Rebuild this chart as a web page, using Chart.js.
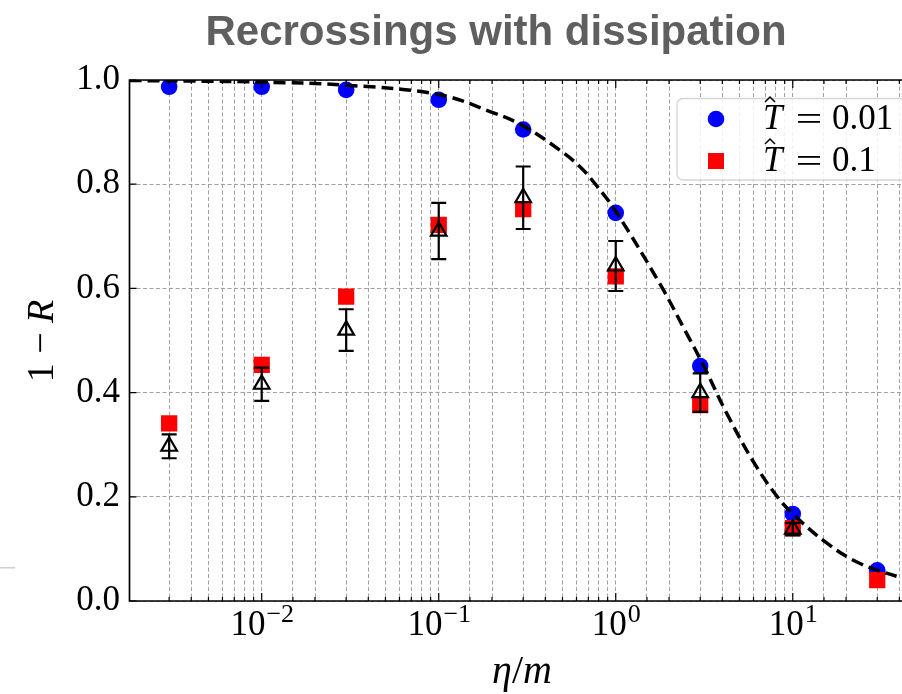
<!DOCTYPE html>
<html>
<head>
<meta charset="utf-8">
<script src="https://cdn.jsdelivr.net/npm/chart.js@4.4.1/dist/chart.umd.min.js"></script>
<style>
  html, body { margin: 0; padding: 0; background: #fff; overflow: hidden; }
  #wrap { position: relative; width: 902px; height: 694px; }
</style>
</head>
<body>
<div id="wrap"><canvas id="chart" width="902" height="694"></canvas></div>
<script>
// eta/m sample points (log axis)
const etaOverM = [0.003, 0.01, 0.03, 0.1, 0.3, 1, 3, 10, 30];
// 1 - R, T = 0.01 (blue circles)
const recrossT001 = [0.987, 0.987, 0.981, 0.962, 0.905, 0.745, 0.451, 0.167, 0.059];
// 1 - R, T = 0.1 (red squares)
const recrossT01 = [0.341, 0.453, 0.584, 0.722, 0.752, 0.623, 0.376, 0.140, 0.040];
// black triangles with error bars
const recrossMean = [0.297, 0.416, 0.520, 0.710, 0.774, 0.643, 0.400, 0.138, null];
const recrossErr = [0.023, 0.032, 0.040, 0.054, 0.060, 0.048, 0.037, 0.012, null];
// dashed reference curve
const curveEta = [0.001791, 0.004, 0.01, 0.03, 0.1, 0.2, 0.3, 0.48, 0.63, 0.78, 1.0, 1.78, 2.5, 3.13, 4.24, 6.0, 8.1, 10.1, 15.6, 24, 41.4];
const curveVal = [0.999, 0.998, 0.996, 0.990, 0.972, 0.938, 0.912, 0.866, 0.833, 0.797, 0.748, 0.608, 0.515, 0.452, 0.360, 0.267, 0.202, 0.166, 0.111, 0.072, 0.044];

const xDecades = [-2, -1, 0, 1];
const legendLabels = ["0.01", "0.1"];
const titleText = "Recrossings with dissipation";

const X_MIN = 0.001791;
const X_MAX = 41.4;
const SERIF = '"Liberation Serif", "DejaVu Serif", serif';

const toPoints = (xs, ys) =>
  xs.map((x, i) => ({ x, y: ys[i] })).filter((p) => p.y !== null);

const isDecade = (v) => Math.abs(Math.log10(v) - Math.round(Math.log10(v))) < 1e-9;

// title, axis titles, superscript tick labels
const textPlugin = {
  id: "texts",
  afterDraw(chart) {
    const { ctx, scales: { x } } = chart;
    ctx.save();
    ctx.fillStyle = "#5f5f5f";
    ctx.font = 'bold 42px "Liberation Sans", Arial, sans-serif';
    ctx.textAlign = "center";
    ctx.textBaseline = "alphabetic";
    ctx.fillText(titleText, 496, 45);

    ctx.fillStyle = "#000";
    xDecades.forEach((exp) => {
      const px = x.getPixelForValue(Math.pow(10, exp));
      const base = "10";
      const sup = exp < 0 ? "\u2212" + Math.abs(exp) : String(exp);
      ctx.font = "35px " + SERIF;
      const wb = ctx.measureText(base).width;
      ctx.font = "26px " + SERIF;
      const ws = ctx.measureText(sup).width;
      const left = px - (wb + ws) / 2;
      ctx.textAlign = "left";
      ctx.font = "35px " + SERIF;
      ctx.fillText(base, left, 635);
      ctx.font = "26px " + SERIF;
      ctx.fillText(sup, left + wb + 1, 622);
    });

    // x title: eta/m
    ctx.font = "italic 40px " + SERIF;
    const wEta = ctx.measureText("\u03b7").width;
    const wM = ctx.measureText("m").width;
    ctx.font = "40px " + SERIF;
    const wSl = ctx.measureText("/").width;
    let cx = 522 - (wEta + wSl + wM) / 2;
    ctx.font = "italic 40px " + SERIF;
    ctx.fillText("\u03b7", cx, 683);
    cx += wEta;
    ctx.font = "40px " + SERIF;
    ctx.fillText("/", cx, 683);
    cx += wSl;
    ctx.font = "italic 40px " + SERIF;
    ctx.fillText("m", cx, 683);

    // y title: 1 - R
    ctx.translate(53, 341);
    ctx.rotate(-Math.PI / 2);
    ctx.font = "38px " + SERIF;
    const pre = "1 \u2212 ";
    const wPre = ctx.measureText(pre).width;
    ctx.font = "italic 38px " + SERIF;
    const wR = ctx.measureText("R").width;
    const sx = -(wPre + wR) / 2;
    ctx.font = "38px " + SERIF;
    ctx.fillText(pre, sx, 0);
    ctx.font = "italic 38px " + SERIF;
    ctx.fillText("R", sx + wPre, 0);
    ctx.restore();
  },
};

// spines and inward tick marks
const framePlugin = {
  id: "frame",
  afterDatasetsDraw(chart) {
    const { ctx, chartArea: a, scales: { x, y } } = chart;
    ctx.save();
    ctx.strokeStyle = "#000";
    ctx.lineWidth = 1.7;
    ctx.beginPath();
    ctx.moveTo(a.right + 4, a.top);
    ctx.lineTo(a.left, a.top);
    ctx.lineTo(a.left, a.bottom);
    ctx.lineTo(a.right + 4, a.bottom);
    ctx.stroke();

    ctx.lineWidth = 1.2;
    ctx.beginPath();
    x.ticks.forEach((t) => {
      if (t.value <= X_MIN || t.value >= X_MAX) return;
      const px = x.getPixelForValue(t.value);
      const len = isDecade(t.value) ? 8 : 4;
      ctx.moveTo(px, a.bottom);
      ctx.lineTo(px, a.bottom - len);
      ctx.moveTo(px, a.top);
      ctx.lineTo(px, a.top + len);
    });
    y.ticks.forEach((t) => {
      const py = y.getPixelForValue(t.value);
      ctx.moveTo(a.left, py);
      ctx.lineTo(a.left + 7, py);
    });
    ctx.stroke();
    ctx.restore();
  },
};

const errorBarPlugin = {
  id: "errorBars",
  afterDatasetsDraw(chart) {
    const { ctx, scales: { x, y } } = chart;
    ctx.save();
    ctx.strokeStyle = "#000";
    ctx.lineWidth = 2.2;
    etaOverM.forEach((eta, i) => {
      if (recrossMean[i] === null) return;
      const px = x.getPixelForValue(eta);
      const top = y.getPixelForValue(recrossMean[i] + recrossErr[i]);
      const bot = y.getPixelForValue(recrossMean[i] - recrossErr[i]);
      ctx.beginPath();
      ctx.moveTo(px, top);
      ctx.lineTo(px, bot);
      ctx.moveTo(px - 7.5, top);
      ctx.lineTo(px + 7.5, top);
      ctx.moveTo(px - 7.5, bot);
      ctx.lineTo(px + 7.5, bot);
      ctx.stroke();
    });
    ctx.restore();
  },
};

const drawHatT = (ctx, x, base) => {
  ctx.font = "italic 35px " + SERIF;
  ctx.fillText("T", x, base);
  ctx.beginPath();
  ctx.moveTo(x + 2, base - 27);
  ctx.lineTo(x + 7, base - 32);
  ctx.lineTo(x + 12, base - 27);
  ctx.lineWidth = 1.5;
  ctx.stroke();
};

const legendPlugin = {
  id: "boxLegend",
  afterDraw(chart) {
    const { ctx } = chart;
    const ds = chart.data.datasets;
    ctx.save();
    ctx.beginPath();
    ctx.roundRect(677, 98.5, 240, 81.5, 6);
    ctx.fillStyle = "rgba(255,255,255,0.85)";
    ctx.fill();
    ctx.strokeStyle = "#d6d6d6";
    ctx.lineWidth = 1.3;
    ctx.stroke();

    const rows = [
      { y: 119, base: 129, style: "circle", ds: ds[1] },
      { y: 161, base: 171, style: "rect", ds: ds[2] },
    ];
    rows.forEach((row, i) => {
      ctx.fillStyle = row.ds.backgroundColor;
      if (row.style === "circle") {
        ctx.beginPath();
        ctx.arc(716, row.y, 8.3, 0, Math.PI * 2);
        ctx.fill();
      } else {
        ctx.fillRect(716 - 8, row.y - 8, 16, 16);
      }
      ctx.fillStyle = "#000";
      ctx.strokeStyle = "#000";
      ctx.textAlign = "left";
      ctx.textBaseline = "alphabetic";
      drawHatT(ctx, 763, row.base);
      // long equals sign, as in TeX
      ctx.fillRect(798, row.base - 15, 22, 1.8);
      ctx.fillRect(798, row.base - 8, 22, 1.8);
      ctx.font = "35px " + SERIF;
      ctx.fillText(legendLabels[i], 832, row.base);
    });
    // small grey mark at the left edge of the source image
    ctx.fillStyle = "#cfcfcf";
    ctx.fillRect(0, 567, 15, 1.5);
    ctx.restore();
  },
};

new Chart(document.getElementById("chart"), {
  type: "scatter",
  data: {
    datasets: [
      {
        label: "curve",
        type: "line",
        data: toPoints(curveEta, curveVal),
        borderColor: "#000",
        borderWidth: 3.5,
        borderDash: [12, 6],
        pointRadius: 0,
        fill: false,
        tension: 0.4,
        order: 1,
      },
      {
        label: "T = 0.01",
        data: toPoints(etaOverM, recrossT001),
        backgroundColor: "#0000ff",
        borderWidth: 0,
        pointStyle: "circle",
        pointRadius: 8.3,
        order: 3,
      },
      {
        label: "T = 0.1",
        data: toPoints(etaOverM, recrossT01),
        backgroundColor: "#ff0000",
        borderWidth: 0,
        pointStyle: "rect",
        pointRadius: 11.5,
        order: 2,
      },
      {
        label: "mean",
        data: toPoints(etaOverM, recrossMean),
        backgroundColor: "rgba(0,0,0,0)",
        borderColor: "#000",
        borderWidth: 2.2,
        pointStyle: "triangle",
        pointRadius: 9,
        order: 0,
      },
    ],
  },
  options: {
    responsive: false,
    animation: false,
    events: [],
    layout: { autoPadding: false, padding: { top: 80, left: 0, right: 0, bottom: 0 } },
    plugins: { legend: { display: false }, title: { display: false }, tooltip: { enabled: false } },
    scales: {
      x: {
        type: "logarithmic",
        min: X_MIN,
        max: X_MAX,
        afterFit: (scale) => { scale.height = 93; },
        border: { display: false, dash: [4, 2.5] },
        grid: { color: "#a0a0a0", lineWidth: 1, drawTicks: false },
        ticks: { autoSkip: false, padding: 0, callback: () => "" },
      },
      y: {
        min: 0,
        max: 1,
        afterFit: (scale) => { scale.width = 129.5; },
        border: { display: false, dash: [4, 2.5] },
        grid: { color: "#a0a0a0", lineWidth: 1, drawTicks: false },
        ticks: {
          stepSize: 0.2,
          padding: 9.5,
          color: "#000",
          font: { family: SERIF, size: 35 },
          callback: (v) => Number(v).toFixed(1),
        },
      },
    },
  },
  plugins: [errorBarPlugin, framePlugin, textPlugin, legendPlugin],
});
</script>
</body>
</html>
